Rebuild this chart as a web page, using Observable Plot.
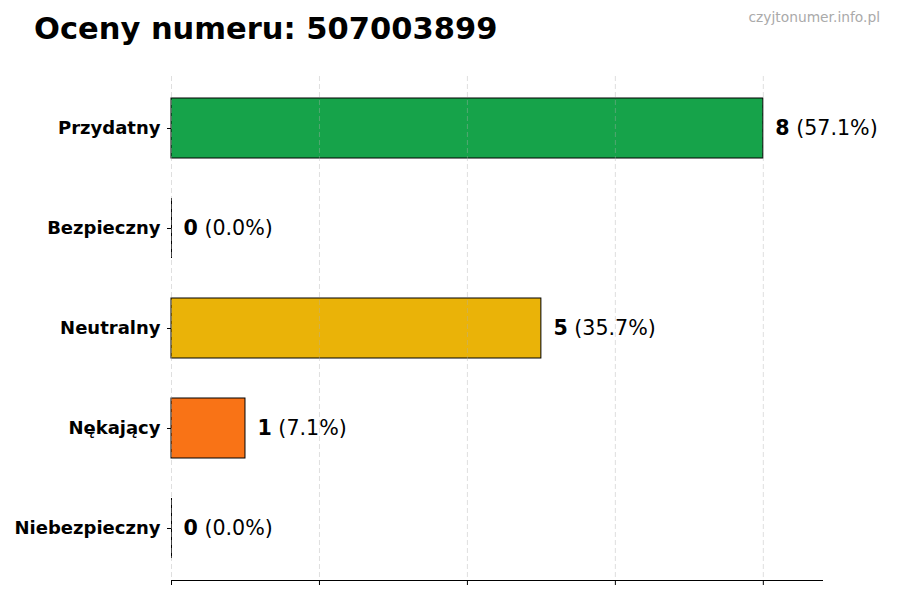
<!DOCTYPE html>
<html>
<head>
<meta charset="utf-8">
<script src="https://cdn.jsdelivr.net/npm/d3@7"></script>
<script src="https://cdn.jsdelivr.net/npm/@observablehq/plot@0.6"></script>
<style>
  html, body { margin: 0; padding: 0; background: #fff; }
  #wrap { position: relative; width: 900px; height: 600px; font-family: "DejaVu Sans", sans-serif; }
  #title { position: absolute; left: 34px; top: 14px; font-size: 30.5px; line-height: 30.5px; font-weight: bold; color: #000; white-space: nowrap; }
  #wm { position: absolute; right: 20px; top: 10.5px; font-size: 13.8px; line-height: 13.8px; color: #aaaaaa; white-space: nowrap; }
  #chart { position: absolute; left: 0; top: 0; }
</style>
</head>
<body>
<div id="wrap">
  <div id="chart"></div>
  <div id="title">Oceny numeru: 507003899</div>
  <div id="wm">czyjtonumer.info.pl</div>
</div>
<script>
const categories = ["Przydatny", "Bezpieczny", "Neutralny", "Nękający", "Niebezpieczny"];
const counts = [8, 0, 5, 1, 0];
const colors = ["#16a34a", "#3b82f6", "#eab308", "#f97316", "#dc2626"];
const xTicks = [0, 2, 4, 6, 8];

const total = d3.sum(counts);
const data = categories.map((c, i) => ({
  cat: c,
  count: counts[i],
  color: colors[i],
  label: `${counts[i]} (${(counts[i] / total * 100).toFixed(1)}%)`
}));

const plot = Plot.plot({
  width: 900,
  height: 600,
  marginLeft: 171,
  marginRight: 78,
  marginTop: 76,
  marginBottom: 20,
  style: { fontFamily: "DejaVu Sans, sans-serif", background: "transparent", overflow: "visible" },
  x: { domain: [0, 8.8] },
  y: { domain: categories, paddingInner: 0.4, paddingOuter: 0.22 },
  marks: [
    Plot.barX(data, { x: "count", y: "cat", fill: "color", stroke: "#000", strokeWidth: 1 }),
    Plot.tickX(data.filter(d => d.count === 0), { x: "count", y: "cat", stroke: "#000", strokeWidth: 1 }),
    Plot.gridX(xTicks, { stroke: "#b0b0b0", strokeOpacity: 0.5, strokeWidth: 0.8, strokeDasharray: "5,3" }),
    Plot.frame({ anchor: "bottom", stroke: "#000", strokeWidth: 1 }),
    Plot.axisX(xTicks, { tickFormat: () => "", tickSize: 5, stroke: "#000", label: null }),
    Plot.axisY({ tickSize: 4, tickPadding: 7, fontSize: 18, fontWeight: "bold", fill: "#000", stroke: "#000", label: null }),
    Plot.text(data, { x: "count", y: "cat", text: "label", dx: 12, textAnchor: "start", fontSize: 20.6, fill: "#000" })
  ]
});

document.getElementById("chart").appendChild(plot);

// Bold count, regular percentage
d3.select(plot).selectAll("g[aria-label='text'] text").each(function () {
  const t = d3.select(this);
  const s = t.text();
  const i = s.indexOf(" ");
  const num = s.slice(0, i), rest = s.slice(i);
  t.text("");
  t.append("tspan").attr("font-weight", "bold").text(num);
  t.append("tspan").attr("font-weight", "normal").attr("xml:space", "preserve").text(rest);
});
</script>
</body>
</html>
